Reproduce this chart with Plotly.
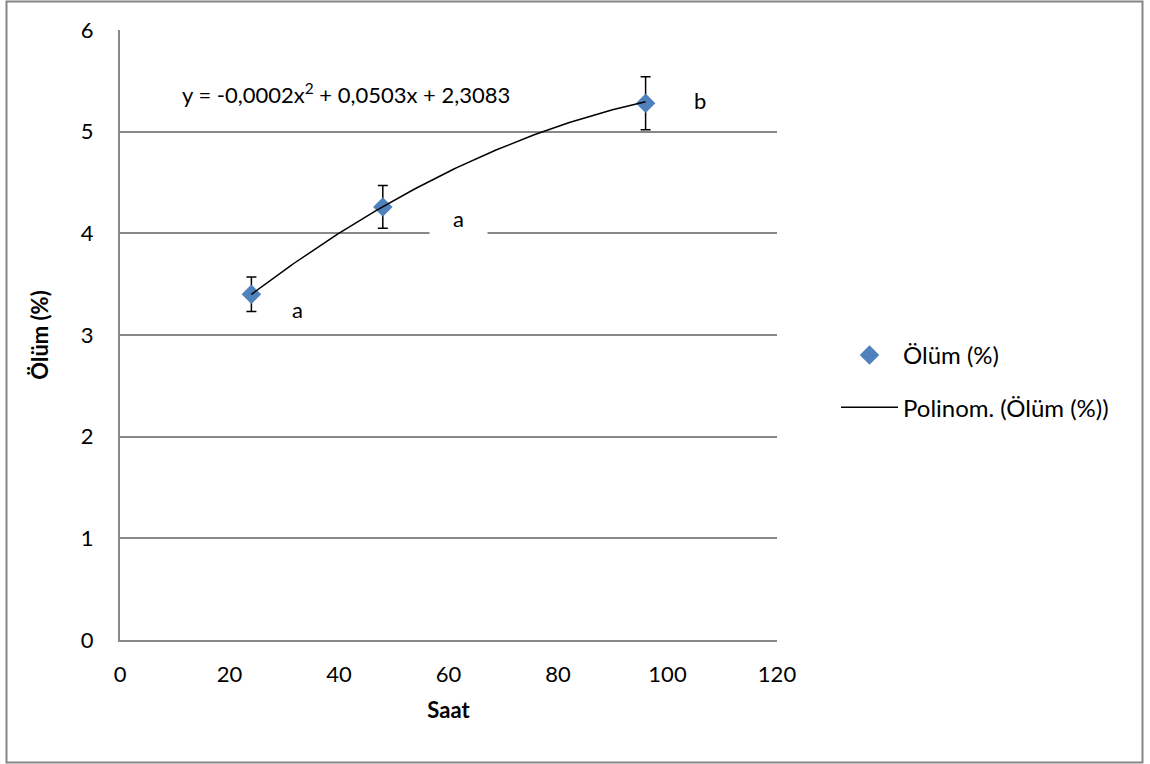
import numpy as np
import plotly.graph_objects as go

# Measured mortality at each sampling time
saat = [24, 48, 96]
olum = [3.40, 4.26, 5.28]
hata = [0.17, 0.21, 0.26]

# Second-order polynomial trend coefficients (a2, a1, a0)
katsayilar = [-0.0002, 0.0503, 2.3083]
denklem = "y = -0,0002x<sup>2</sup> + 0,0503x + 2,3083"

# Significance letters: (x, y, text)
harf_x = [32.5, 61.9, 106]
harf_y = [3.25, 4.15, 5.31]
harf = ["a", "a", "b"]

x_ticks = [0, 20, 40, 60, 80, 100, 120]
y_ticks = [0, 1, 2, 3, 4, 5, 6]

FONT = "Lato"
FS = 22
GRID = "#888888"

xs = np.linspace(min(saat), max(saat), 120)
ys = np.polyval(katsayilar, xs)

fig = go.Figure()

fig.add_trace(go.Scatter(
    x=saat, y=olum, mode="markers", name="Ölüm (%)",
    marker=dict(symbol="diamond", size=15, color="#4F81BD"),
    error_y=dict(type="data", array=hata, visible=True,
                 color="black", thickness=1.5, width=5),
    legendgroup="g1",
))
fig.add_trace(go.Scatter(
    x=xs, y=ys, mode="lines", name="Polinom. (Ölüm (%))",
    line=dict(color="black", width=1.5),
    legendgroup="g2",
))

# Letters beside the points
for i, (hx, hy, t) in enumerate(zip(harf_x, harf_y, harf)):
    kw = {}
    if i == 1:
        kw = dict(bgcolor="white", width=55, height=38)
    fig.add_annotation(x=hx, y=hy, text=t, showarrow=False,
                       font=dict(family=FONT, size=FS, color="black"), **kw)

# Trendline equation
fig.add_annotation(x=41.3, y=5.38, text=denklem, showarrow=False,
                   font=dict(family=FONT, size=FS, color="black"))

# Outer chart border
W, H = 1150, 764
l, r, t, b = 120, 373, 30, 124
pw, ph = W - l - r, H - t - b
fig.add_shape(type="rect", xref="paper", yref="paper",
              x0=(6.5 - l) / pw, x1=(1142.5 - l) / pw,
              y0=(H - b - 762.5) / ph, y1=(H - b - 1.5) / ph,
              line=dict(color="#868686", width=2), layer="below")

fig.update_layout(
    width=W, height=H,
    margin=dict(l=l, r=r, t=t, b=b),
    paper_bgcolor="white", plot_bgcolor="white",
    font=dict(family=FONT, size=FS, color="black"),
    showlegend=True,
    legend=dict(x=(836 - l) / pw, y=(H - b - 333) / ph,
                xanchor="left", yanchor="top",
                traceorder="grouped", tracegroupgap=18, itemwidth=57,
                font=dict(family=FONT, size=24, color="black"),
                bgcolor="rgba(0,0,0,0)"),
    xaxis=dict(range=[0, 120], tickvals=x_ticks, showgrid=False,
               showline=True, linecolor=GRID, linewidth=2, zeroline=False,
               ticks="", ticklabelstandoff=14,
               title=dict(text="<b>Saat</b>", standoff=16,
                          font=dict(family=FONT, size=FS))),
    yaxis=dict(range=[0, 6], tickvals=y_ticks, showgrid=True,
               gridcolor=GRID, gridwidth=1.5, showline=True,
               linecolor=GRID, linewidth=2, zeroline=False,
               ticks="", ticklabelstandoff=20,
               title=dict(text="<b>Ölüm (%)</b>", standoff=26,
                          font=dict(family=FONT, size=FS))),
)

fig.write_html("out.html")
